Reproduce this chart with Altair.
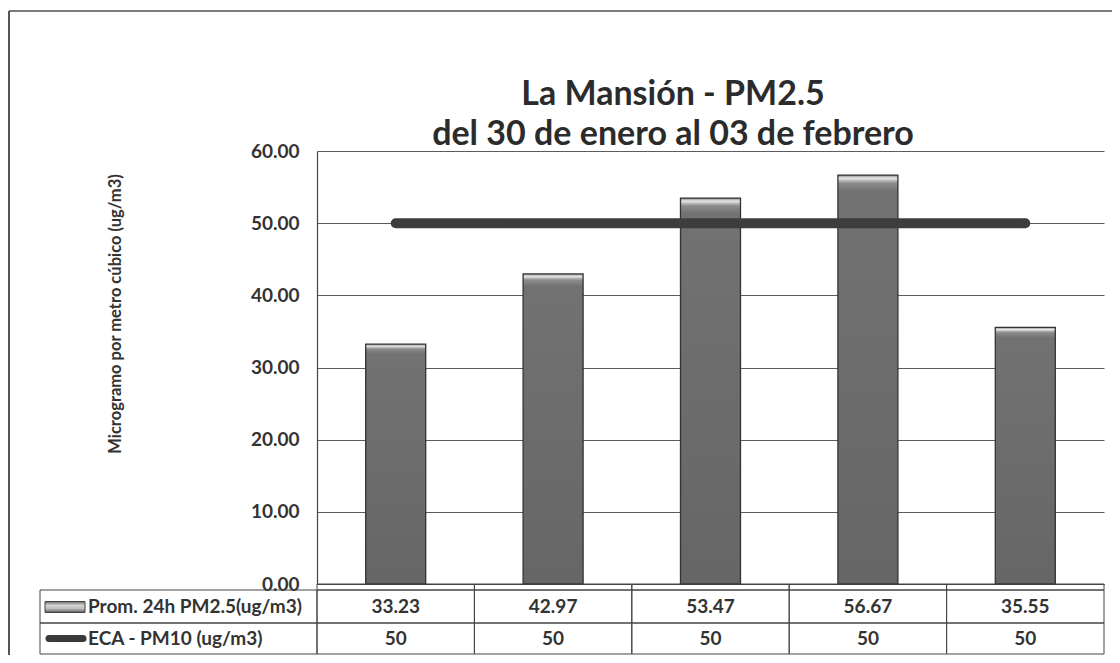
import altair as alt
import pandas as pd

# ---- data ----
categorias = ["30 ene", "31 ene", "01 feb", "02 feb", "03 feb"]
pm25 = [33.23, 42.97, 53.47, 56.67, 35.55]
eca = [50, 50, 50, 50, 50]
titulo = ["La Mansión - PM2.5", "del 30 de enero al 03 de febrero"]
series = ["Prom. 24h PM2.5(ug/m3)", "ECA - PM10 (ug/m3)"]
y_ticks = [0, 10, 20, 30, 40, 50, 60]
y_titulo = "Microgramo  por metro cúbico  (ug/m3)"

FONT = "Lato"
W, H = 787, 433

df = pd.DataFrame({
    "cat": categorias,
    "pm25": pm25,
    "eca": eca,
    "pm25_lbl": [f"{v:.2f}" for v in pm25],
    "eca_lbl": [str(v) for v in eca],
})

xscale = alt.Scale(domain=categorias, paddingInner=0, paddingOuter=0)
yscale = alt.Scale(domain=[0, 60], nice=False)

X = alt.X("cat:N", scale=xscale, sort=None,
          axis=alt.Axis(labels=False, ticks=False, title=None,
                        domainColor="#444444", domainWidth=1.2))

base = alt.Chart(df)

bar_grad = alt.Gradient(
    gradient="linear", x1=0, x2=0, y1=0, y2=1,
    stops=[alt.GradientStop(offset=0, color="#8a8a8a"),
           alt.GradientStop(offset=0.008, color="#e6e6e6"),
           alt.GradientStop(offset=0.02, color="#8c8c8c"),
           alt.GradientStop(offset=0.04, color="#727272"),
           alt.GradientStop(offset=1, color="#666666")])

bars = base.mark_bar(width=60, fill=bar_grad, stroke="#333333", strokeWidth=1.3).encode(
    x=X,
    y=alt.Y("pm25:Q", scale=yscale,
            axis=alt.Axis(values=y_ticks, format=".2f", title=None, ticks=False,
                          labelPadding=18, labelFont=FONT, labelFontSize=19,
                          labelFontWeight="bold", labelColor="#333333",
                          domainColor="#444444", domainWidth=1.2,
                          grid=True, gridColor="#5c5c5c", gridWidth=1)),
)

line = base.mark_line(strokeWidth=10, strokeCap="round", color="#3d3d3d").encode(
    x=alt.X("cat:N", scale=xscale, sort=None),
    y=alt.Y("eca:Q", scale=yscale),
)

# ---- data table under the plot ----
TBL_STRIP = H + 6
ROW1_T, ROW1_B = TBL_STRIP, TBL_STRIP + 33
ROW2_T, ROW2_B = ROW1_B, ROW1_B + 31
TBL_LEFT = -277

cell = dict(fill="white", fillOpacity=0, stroke="#444444", strokeWidth=1)
strip = base.mark_rect(**cell).encode(
    x=alt.X("cat:N", scale=xscale, sort=None), y=alt.value(H), y2=alt.value(TBL_STRIP))
row1 = base.mark_rect(**cell).encode(
    x=alt.X("cat:N", scale=xscale, sort=None), y=alt.value(ROW1_T), y2=alt.value(ROW1_B))
row2 = base.mark_rect(**cell).encode(
    x=alt.X("cat:N", scale=xscale, sort=None), y=alt.value(ROW2_T), y2=alt.value(ROW2_B))

lbl_df = pd.DataFrame({"serie": series, "row": [0, 1]})
lbl_base = alt.Chart(lbl_df)
lbl_cells = lbl_base.mark_rect(**cell).encode(
    x=alt.value(TBL_LEFT), x2=alt.value(0),
    y=alt.value(ROW1_T), y2=alt.value(ROW1_B),
).transform_filter("datum.row == 0")
lbl_cells2 = lbl_base.mark_rect(**cell).encode(
    x=alt.value(TBL_LEFT), x2=alt.value(0),
    y=alt.value(ROW2_T), y2=alt.value(ROW2_B),
).transform_filter("datum.row == 1")

txt_style = dict(font=FONT, fontSize=19, fontWeight="bold", color="#333333", baseline="middle")
lbl_txt1 = lbl_base.mark_text(align="left", **txt_style).encode(
    x=alt.value(-229), y=alt.value((ROW1_T + ROW1_B) / 2), text="serie:N"
).transform_filter("datum.row == 0")
lbl_txt2 = lbl_base.mark_text(align="left", **txt_style).encode(
    x=alt.value(-229), y=alt.value((ROW2_T + ROW2_B) / 2), text="serie:N"
).transform_filter("datum.row == 1")

swatch_grad = alt.Gradient(
    gradient="linear", x1=0, x2=0, y1=0, y2=1,
    stops=[alt.GradientStop(offset=0, color="#6a6a6a"),
           alt.GradientStop(offset=0.35, color="#d4d4d4"),
           alt.GradientStop(offset=0.65, color="#bdbdbd"),
           alt.GradientStop(offset=1, color="#5a5a5a")])
sw_bar = lbl_base.mark_rect(fill=swatch_grad, stroke="#444444", strokeWidth=1).encode(
    x=alt.value(-272), x2=alt.value(-232),
    y=alt.value((ROW1_T + ROW1_B) / 2 - 5), y2=alt.value((ROW1_T + ROW1_B) / 2 + 6),
).transform_filter("datum.row == 0")
sw_line = lbl_base.mark_rule(strokeWidth=7, strokeCap="round", color="#3a3a3a").encode(
    x=alt.value(-268), x2=alt.value(-234),
    y=alt.value((ROW2_T + ROW2_B) / 2),
).transform_filter("datum.row == 1")

val1 = base.mark_text(align="center", **txt_style).encode(
    x=alt.X("cat:N", scale=xscale, sort=None),
    y=alt.value((ROW1_T + ROW1_B) / 2), text="pm25_lbl:N")
val2 = base.mark_text(align="center", **txt_style).encode(
    x=alt.X("cat:N", scale=xscale, sort=None),
    y=alt.value((ROW2_T + ROW2_B) / 2), text="eca_lbl:N")

# ---- titles ----
tdf = pd.DataFrame({"t": titulo, "i": [0, 1]})
tbase = alt.Chart(tdf)
title1 = tbase.mark_text(font=FONT, fontSize=34, fontWeight="bold", color="#2b2b2b",
                         align="center", baseline="middle").encode(
    x=alt.value(356), y=alt.value(-56), text="t:N").transform_filter("datum.i == 0")
title2 = tbase.mark_text(font=FONT, fontSize=34, fontWeight="bold", color="#2b2b2b",
                         align="center", baseline="middle").encode(
    x=alt.value(356), y=alt.value(-16), text="t:N").transform_filter("datum.i == 1")

ydf = pd.DataFrame({"t": [y_titulo]})
ytitle = alt.Chart(ydf).mark_text(font=FONT, fontSize=16.5, fontWeight="bold", color="#333333",
                                  align="center", baseline="middle", angle=270).encode(
    x=alt.value(-201), y=alt.value(163), text="t:N")

# ---- outer frame ----
fdf = pd.DataFrame({"k": [0]})
fbase = alt.Chart(fdf)
frame_top = fbase.mark_rule(color="#7a7a7a", strokeWidth=2).encode(
    x=alt.value(-308), x2=alt.value(W + 8), y=alt.value(-140))
frame_left = fbase.mark_rule(color="#555555", strokeWidth=2).encode(
    x=alt.value(-308), y=alt.value(-140), y2=alt.value(H + 71))

chart = alt.layer(
    frame_top, frame_left,
    bars, line,
    strip, row1, row2, lbl_cells, lbl_cells2,
    lbl_txt1, lbl_txt2, sw_bar, sw_line, val1, val2,
    title1, title2, ytitle,
).properties(
    width=W, height=H,
    autosize=alt.AutoSizeParams(type="none"),
    padding={"left": 309, "top": 143, "right": 8, "bottom": 71},
    background="white",
).configure_view(stroke=None)

chart.save("out.html", embed_options={"renderer": "svg", "actions": False})
